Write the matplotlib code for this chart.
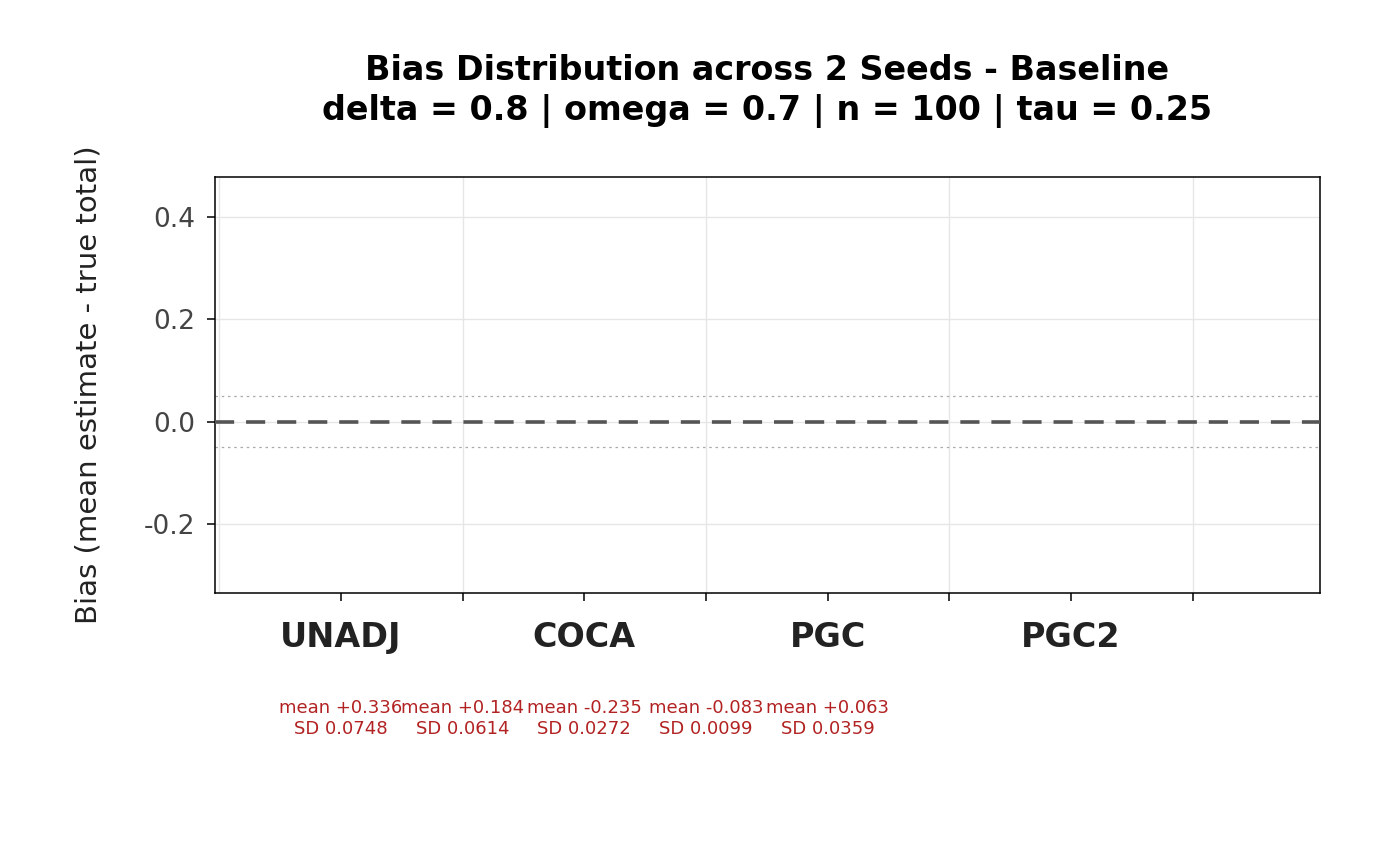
import numpy as np
import matplotlib
matplotlib.use('Agg')
import matplotlib.pyplot as plt
import matplotlib.transforms as mtransforms


# Daten aus dem Bild
methods = ["UNADJ", "COCA", "PGC", "PGC2"]
bias_means = [0.336, 0.184, -0.235, -0.083, 0.063]
bias_sds = [0.0748, 0.0614, 0.0272, 0.0099, 0.0359]
tolerance = 0.05
yticks = [-0.2, 0.0, 0.2, 0.4]

title = ("Bias Distribution across 2 Seeds - Baseline\n"
         "delta = 0.8 | omega = 0.7 | n = 100 | tau = 0.25")


fig = plt.figure(figsize=(14, 8.66), dpi=100)
ax = fig.add_axes([0.1536, 0.3152, 0.7893, 0.4804])

x_major = np.arange(1, len(methods) + 1)
x_minor = x_major + 0.5

ax.set_xlim(0.482, 5.024)
ax.set_ylim(-0.335, 0.478)

# Gitter
for xg in np.concatenate([[0.5], x_minor]):
    ax.axvline(xg, color="#e6e6e6", lw=1.0, zorder=0)
for yg in yticks:
    ax.axhline(yg, color="#e6e6e6", lw=1.0, zorder=0)

# Referenzlinien
ax.axhline(0, color="#555555", lw=2.6, linestyle=(0, (5.3, 3.3)), zorder=3)
ax.axhline(tolerance, color="#aaaaaa", lw=0.9, linestyle=(0, (2, 3)), zorder=2)
ax.axhline(-tolerance, color="#aaaaaa", lw=0.9, linestyle=(0, (2, 3)), zorder=2)

ax.set_xticks(x_major)
ax.set_xticklabels(methods, fontsize=24, fontweight="bold", color="#222222")
ax.set_xticks(x_minor, minor=True)
ax.tick_params(axis="x", which="both", length=6, width=1.1, pad=14, color="black")
ax.tick_params(axis="y", length=6, width=1.1, pad=8, labelsize=19, labelcolor="#444444")

ax.set_yticks(yticks)
ax.set_yticklabels(["-0.2", "0.0", "0.2", "0.4"])
ax.set_ylabel("Bias (mean estimate - true total)", fontsize=21, color="#222222", labelpad=30)

for sp in ax.spines.values():
    sp.set_color("black")
    sp.set_linewidth(1.1)

# Anmerkungen unter der Achse
trans = mtransforms.blended_transform_factory(ax.transData, ax.transAxes)
for i, (m, s) in enumerate(zip(bias_means, bias_sds)):
    ax.text(1 + 0.5 * i, -0.302, "mean %+.3f\nSD %.4f" % (m, s), transform=trans,
            ha="center", va="center", fontsize=13, color="#b22222",
            linespacing=1.2, clip_on=False)

fig.text(0.548, 0.895, title, ha="center", va="center", fontsize=24,
         fontweight="bold", color="black", linespacing=1.25)

fig.savefig("out.png", dpi=100, facecolor="white")
